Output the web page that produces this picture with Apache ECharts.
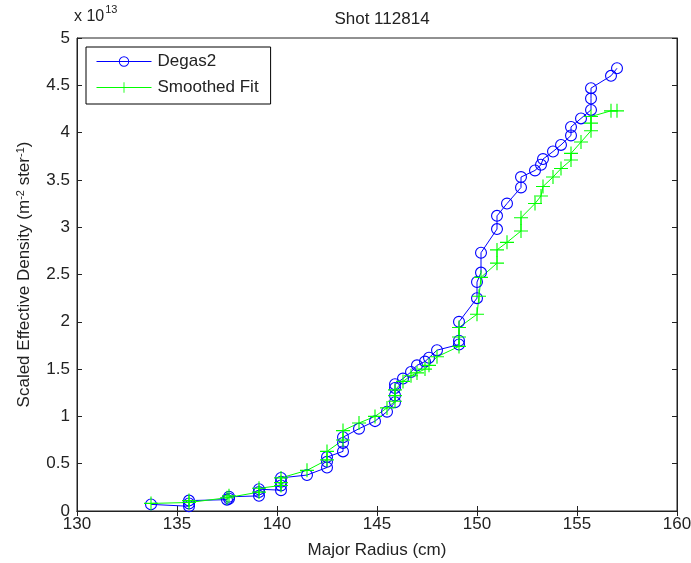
<!DOCTYPE html>
<html><head><meta charset="utf-8">
<script src="https://cdn.jsdelivr.net/npm/echarts@6/dist/echarts.min.js"></script>
<style>html,body{margin:0;padding:0;background:#fff}#c{width:691px;height:563px}</style>
</head><body><div id="c"></div>
<script>
const degasX = [133.7,135.6,135.6,135.6,137.5,137.6,137.6,139.1,139.1,139.1,140.2,140.2,140.2,140.2,141.5,142.5,142.5,142.5,143.3,143.3,143.3,144.1,144.9,145.5,145.9,145.9,145.9,145.9,146.3,146.7,147.0,147.4,147.6,148.0,149.1,149.1,149.1,150.0,150.0,150.2,150.2,151.0,151.0,151.5,152.2,152.2,152.9,153.2,153.3,153.8,154.2,154.7,154.7,155.2,155.7,155.7,155.7,156.7,157.0];
const degasY = [0.07,0.05,0.08,0.11,0.12,0.15,0.13,0.16,0.20,0.23,0.22,0.27,0.31,0.35,0.38,0.46,0.52,0.57,0.63,0.72,0.78,0.87,0.95,1.05,1.15,1.22,1.30,1.34,1.40,1.47,1.54,1.58,1.62,1.70,1.76,1.80,2.00,2.25,2.42,2.52,2.73,2.98,3.12,3.25,3.42,3.53,3.60,3.66,3.72,3.80,3.87,3.97,4.06,4.15,4.24,4.36,4.47,4.60,4.68];
const fitX = [133.7,135.6,135.6,137.5,137.6,139.1,139.1,140.2,140.2,140.2,141.5,142.5,142.5,143.3,143.3,144.1,144.9,145.5,145.9,145.9,145.9,146.3,146.7,147.0,147.4,147.6,148.0,149.1,149.1,149.1,150.0,150.1,150.2,151.0,151.0,151.5,152.2,152.2,152.9,153.2,153.3,153.8,154.2,154.7,154.7,155.2,155.7,155.7,155.7,156.7,157.0];
const fitY = [0.08,0.09,0.11,0.14,0.16,0.20,0.24,0.27,0.30,0.35,0.43,0.54,0.63,0.75,0.85,0.93,1.00,1.09,1.16,1.22,1.28,1.37,1.43,1.46,1.50,1.54,1.63,1.74,1.84,1.94,2.08,2.27,2.47,2.62,2.76,2.84,2.96,3.10,3.25,3.33,3.43,3.53,3.62,3.71,3.78,3.90,4.02,4.10,4.17,4.23,4.23];
const xTicks = [130,135,140,145,150,155,160];
const yTicks = [0,0.5,1,1.5,2,2.5,3,3.5,4,4.5,5];
const titleText = 'Shot 112814';
const xName = 'Major Radius (cm)';
const yName = '{n|Scaled Effective Density (m}{s|-2}{n| ster}{s|-1}{n|)}';
const seriesNames = ['Degas2','Smoothed Fit'];

const font = 'Liberation Sans, Arial, sans-serif';
const fs = 17;
const plus = 'path://M4.6,0H5.4V4.6H10V5.4H5.4V10H4.6V5.4H0V4.6H4.6Z';
const ring = 'path://M0,6A6,6 0 1,0 12,6A6,6 0 1,0 0,6Z M1.1,6A4.9,4.9 0 1,1 10.9,6A4.9,4.9 0 1,1 1.1,6Z';
const pair = (xs, ys) => xs.map((x, i) => [x, ys[i]]);
const axisCommon = {
  axisLine: {show: true, lineStyle: {color: '#222', width: 1}},
  axisTick: {show: true, inside: true, length: 5, lineStyle: {color: '#222'}},
  splitLine: {show: false}
};
const chart = echarts.init(document.getElementById('c'));
chart.setOption({
  animation: false,
  backgroundColor: '#fff',
  textStyle: {fontFamily: font},
  title: {text: titleText, left: 377, top: 6, textAlign: 'center',
    textStyle: {fontSize: fs, fontWeight: 'normal', color: '#222', fontFamily: font}},
  grid: {left: 77, right: 14, top: 38, bottom: 52, show: true, borderColor: '#222', borderWidth: 1,
    containLabel: false, outerBoundsMode: 'none'},
  legend: {
    left: 86, top: 47, orient: 'vertical', itemWidth: 55, itemHeight: 13, itemGap: 9,
    padding: [6, 12, 8, 10], borderColor: '#000', borderWidth: 1, backgroundColor: '#fff',
    lineStyle: {width: 1},
    textStyle: {fontSize: fs, color: '#222', fontFamily: font, padding: [0, 0, 0, 1]},
    data: seriesNames
  },
  xAxis: [
    Object.assign({type: 'value', min: 130, max: 160, interval: 5, name: xName,
      nameLocation: 'middle', nameGap: 31,
      nameTextStyle: {fontSize: fs, color: '#222', fontFamily: font},
      axisLabel: {fontSize: fs, color: '#222', margin: 5, fontFamily: font,
        formatter: v => xTicks.includes(v) ? String(v) : ''}}, axisCommon),
    Object.assign({type: 'value', position: 'top', min: 130, max: 160, interval: 5,
      axisLabel: {show: false}}, axisCommon)
  ],
  yAxis: [
    Object.assign({type: 'value', min: 0, max: 5, interval: 0.5, name: yName,
      nameLocation: 'middle', nameGap: 43,
      nameTextStyle: {fontSize: fs, color: '#222', fontFamily: font,
        rich: {
          n: {fontSize: fs, fontFamily: font, color: '#222'},
          s: {fontSize: 11, fontFamily: font, color: '#222', padding: [0, 0, 8, 0]}
        }},
      axisLabel: {fontSize: fs, color: '#222', margin: 7, fontFamily: font,
        formatter: v => yTicks.includes(v) ? String(v) : ''}}, axisCommon),
    Object.assign({type: 'value', position: 'right', min: 0, max: 5, interval: 0.5,
      axisLabel: {show: false}}, axisCommon)
  ],
  graphic: [{
    type: 'text', left: 74, top: 4,
    style: {
      text: '{a|x 10}{b|13}',
      rich: {
        a: {fontSize: 16, fill: '#222', fontFamily: font, padding: [9, 0, 0, 0]},
        b: {fontSize: 11, fill: '#222', fontFamily: font, padding: [0, 0, 6, 1]}
      }
    }
  }],
  series: [
    {name: seriesNames[0], type: 'line', data: pair(degasX, degasY),
      symbol: ring, symbolSize: 12, showAllSymbol: true,
      lineStyle: {color: '#0000ff', width: 1},
      itemStyle: {color: '#0000ff'}},
    {name: seriesNames[1], type: 'line', data: pair(fitX, fitY),
      symbol: plus, symbolSize: 14, showAllSymbol: true,
      lineStyle: {color: '#00ff00', width: 1},
      itemStyle: {color: '#00ff00'}}
  ]
});
</script></body></html>
